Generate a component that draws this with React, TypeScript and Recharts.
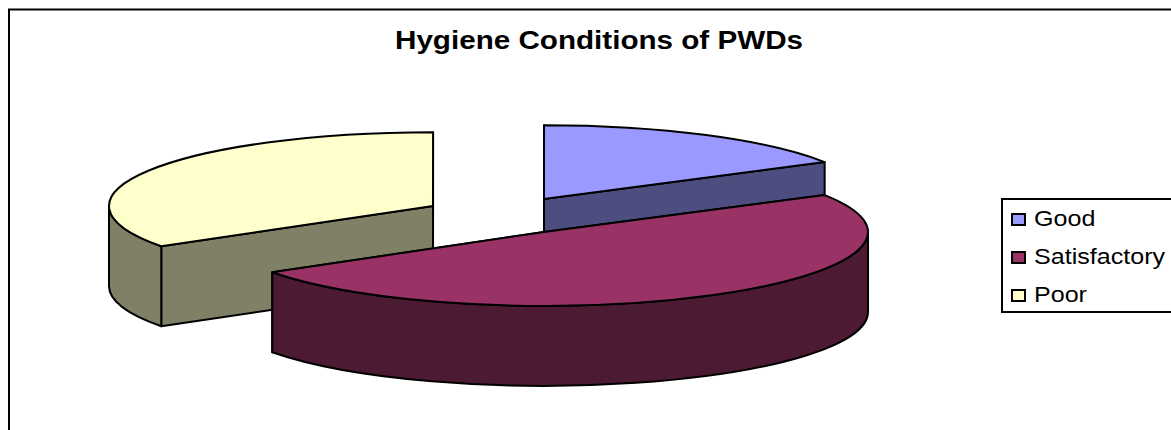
import { PieChart, Pie, Legend } from "recharts";

const CATEGORIES = ["Good", "Satisfactory", "Poor"];
const VALUES = [16.67, 49.16, 34.17];
const TOP_COLORS = ["#9999FF", "#993366", "#FFFFCC"];
const SIDE_COLORS = ["#4D4D80", "#4D1A33", "#808066"];

// pixel offset of each exploded slice from the pie centre
const EXPLODE = [
  { dx: 0, dy: -33 },
  { dx: 0, dy: 0 },
  { dx: -111, dy: -26 },
];

const WIDTH = 1171;
const HEIGHT = 430;
const TILT = 0.228; // vertical squash of the pie
const DEPTH = 80;
const FONT = "'Liberation Sans', Arial, sans-serif";

// painted back to front: Poor, Good, Satisfactory
const DRAW_ORDER = [2, 0, 1];
const chartData = DRAW_ORDER.map((i) => ({
  name: CATEGORIES[i],
  value: VALUES[i],
  fill: TOP_COLORS[i],
  side: SIDE_COLORS[i],
  ...EXPLODE[i],
}));

function Slice3D(props: any) {
  const { cx, cy, outerRadius, startAngle, endAngle, payload, fill } = props;
  const row = payload?.payload ?? payload;
  const x0 = cx + row.dx;
  const y0 = cy + row.dy;
  const rx = outerRadius;
  const ry = outerRadius * TILT;
  // t is degrees clockwise from twelve o'clock
  const from = 90 - startAngle;
  const to = 90 - endAngle;
  const pt = (t: number, drop = 0) => {
    const r = (t * Math.PI) / 180;
    return [x0 + rx * Math.sin(r), y0 - ry * Math.cos(r) + drop];
  };
  const arc = (a: number, b: number, drop = 0) => {
    const [x, y] = pt(b, drop);
    const large = Math.abs(b - a) > 180 ? 1 : 0;
    const sweep = b > a ? 1 : 0;
    return `A${rx} ${ry} 0 ${large} ${sweep} ${x} ${y}`;
  };
  const cutWall = (t: number) => {
    const [x, y] = pt(t);
    return `M${x0} ${y0}L${x} ${y}L${x} ${y + DEPTH}L${x0} ${y0 + DEPTH}Z`;
  };

  // the rim only shows on the front half, offset by whole turns for Poor etc
  const wallParts: string[] = [];
  for (const shift of [0, 360]) {
    const a = Math.max(from, 90 + shift);
    const b = Math.min(to, 270 + shift);
    if (b > a) {
      const [sx, sy] = pt(a);
      const [ex, ey] = pt(b, DEPTH);
      wallParts.push(
        `M${sx} ${sy}${arc(a, b)}L${ex} ${ey}${arc(b, a, DEPTH)}Z`
      );
    }
  }

  const [sx, sy] = pt(from);
  const common = { stroke: "#000", strokeWidth: 2, strokeLinejoin: "round" as const };
  return (
    <g>
      <path d={cutWall(from)} fill={row.side} {...common} />
      <path d={cutWall(to)} fill={row.side} {...common} />
      {wallParts.map((d) => (
        <path key={d} d={d} fill={row.side} {...common} />
      ))}
      <path d={`M${x0} ${y0}L${sx} ${sy}${arc(from, to)}Z`} fill={fill} {...common} />
    </g>
  );
}

function LegendBox() {
  return (
    <div
      style={{
        boxSizing: "border-box",
        width: 175,
        height: 115,
        border: "2px solid #000",
        padding: "0 0 0 8px",
        fontFamily: FONT,
        fontSize: 22,
        color: "#000",
        background: "#fff",
      }}
    >
      {CATEGORIES.map((name, i) => (
        <div
          key={name}
          style={{ display: "flex", alignItems: "center", height: 38, whiteSpace: "nowrap" }}
        >
          <span
            style={{
              boxSizing: "border-box",
              width: 15,
              height: 13,
              marginRight: 8,
              border: "2px solid #000",
              background: TOP_COLORS[i],
            }}
          />
          {/* the original text is drawn a bit wider than the font */}
          <span style={{ display: "inline-block", transform: "scaleX(1.14)", transformOrigin: "left" }}>
            {name}
          </span>
        </div>
      ))}
    </div>
  );
}

export default function App() {
  return (
    <div
      style={{
        position: "absolute",
        left: 0,
        top: 0,
        width: WIDTH,
        height: HEIGHT,
        overflow: "hidden",
        background: "#fff",
      }}
    >
      <PieChart width={WIDTH} height={HEIGHT} margin={{ top: 0, right: 0, bottom: 0, left: 0 }}>
        <path d={`M9 ${HEIGHT}V9.5H${WIDTH}`} fill="none" stroke="#000" strokeWidth={2} />
        <text
          x={395}
          y={49}
          fontFamily={FONT}
          fontWeight="bold"
          fontSize={25}
          fill="#000"
          textLength={408}
          lengthAdjust="spacingAndGlyphs"
        >
          Hygiene Conditions of PWDs
        </text>
        <Pie
          data={chartData}
          dataKey="value"
          nameKey="name"
          cx={544}
          cy={232}
          outerRadius={324}
          startAngle={-147}
          endAngle={-507}
          stroke="#000"
          shape={Slice3D}
          labelLine={false}
          isAnimationActive={false}
        />
        <Legend
          content={<LegendBox />}
          wrapperStyle={{ position: "absolute", left: 1001, top: 198, width: 175, bottom: "auto" }}
        />
      </PieChart>
    </div>
  );
}
